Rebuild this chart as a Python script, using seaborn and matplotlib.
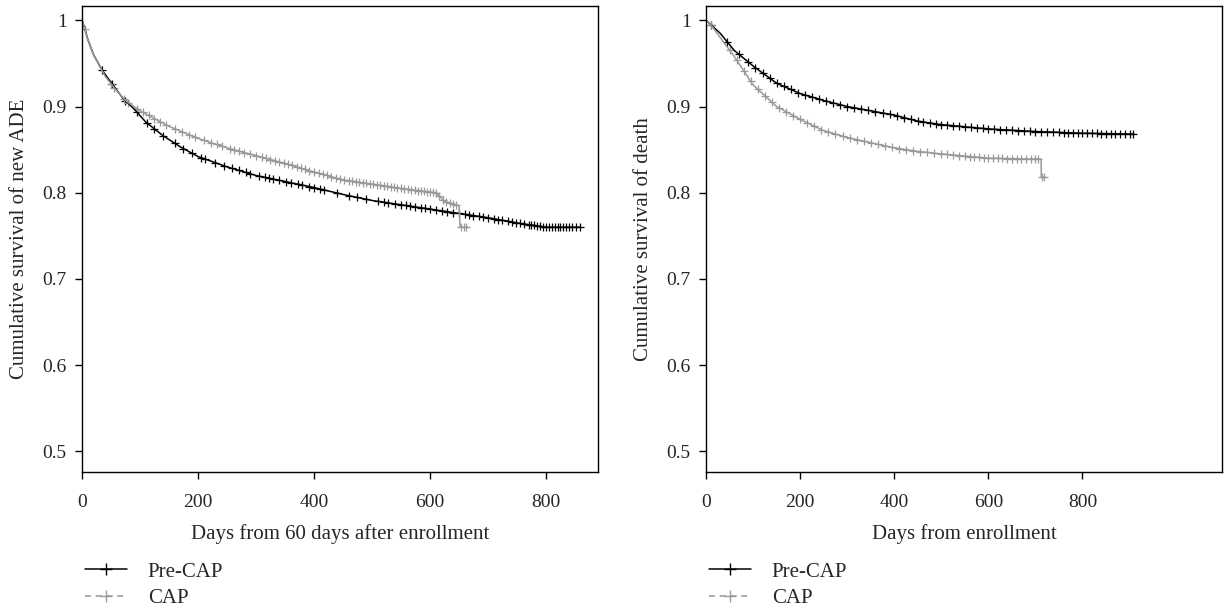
import numpy as np
import pandas as pd
import matplotlib
matplotlib.use("Agg")
import matplotlib.pyplot as plt
import seaborn as sns
from matplotlib.lines import Line2D

# Left panel: new ADE (KM curve points, estimated from the figure)
ade_pre_t = [0, 5, 10, 20, 35, 50, 70, 90, 110, 140, 170, 200, 250, 300, 350, 400, 450, 500, 550, 600, 650, 700, 750, 800, 860]
ade_pre_s = [1.0, 0.99, 0.978, 0.96, 0.942, 0.928, 0.91, 0.897, 0.882, 0.866, 0.853, 0.842, 0.830, 0.820, 0.813, 0.806,
             0.798, 0.791, 0.786, 0.781, 0.776, 0.771, 0.765, 0.760, 0.760]
ade_cap_t = [0, 5, 10, 20, 40, 55, 75, 100, 150, 200, 250, 300, 350, 400, 450, 500, 550, 610, 625, 650, 652, 665]
ade_cap_s = [1.0, 0.99, 0.978, 0.96, 0.935, 0.922, 0.907, 0.895, 0.877, 0.863, 0.852, 0.843, 0.834, 0.824, 0.815, 0.810,
             0.805, 0.800, 0.790, 0.785, 0.760, 0.760]
ade_pre_cens = [35, 52, 75, 95, 112, 125, 140, 160, 175, 190, 205, 212, 230, 245, 258, 270, 282, 290, 305, 315, 322,
                330, 340, 352, 360, 372, 380, 392, 400, 410, 418, 440, 460, 475, 490, 510, 520, 528, 540, 550, 558, 565,
                575, 585, 592, 600, 610, 620, 630, 640, 650, 660, 668, 675, 685, 692, 700, 710, 718, 725, 735, 742, 748,
                755, 762, 770, 775, 780, 785, 790, 795, 800, 805, 810, 815, 820, 825, 830, 835, 840, 845, 852, 858]
ade_cap_cens = [5, 50, 55, 72, 80, 95, 105, 115, 125, 135, 145, 160, 172, 185, 195, 210, 222, 232, 242, 255, 262, 270,
                280, 290, 300, 310, 318, 325, 332, 340, 348, 355, 362, 370, 378, 385, 392, 400, 408, 415, 422, 430, 438,
                445, 452, 460, 466, 472, 478, 484, 490, 496, 502, 508, 514, 520, 526, 532, 538, 544, 550, 556, 562, 568,
                574, 580, 585, 590, 595, 600, 605, 610, 616, 622, 628, 634, 640, 645, 654, 658, 662]

# Right panel: death
dth_pre_t = [0, 10, 30, 60, 100, 150, 200, 250, 300, 350, 400, 450, 500, 600, 700, 800, 910]
dth_pre_s = [1.0, 0.995, 0.985, 0.965, 0.947, 0.927, 0.915, 0.907, 0.900, 0.895, 0.890, 0.883, 0.879, 0.874, 0.871,
             0.869, 0.868]
dth_cap_t = [0, 10, 30, 60, 100, 150, 200, 250, 300, 350, 400, 450, 500, 600, 700, 712, 712.5, 720]
dth_cap_s = [1.0, 0.995, 0.98, 0.958, 0.925, 0.900, 0.885, 0.872, 0.864, 0.858, 0.852, 0.848, 0.845, 0.840, 0.839,
             0.839, 0.818, 0.818]
dth_pre_cens = [10, 45, 70, 90, 105, 120, 135, 150, 165, 180, 195, 210, 225, 240, 255, 270, 285, 300, 315, 330, 345,
                360, 375, 390, 405, 420, 435, 450, 462, 475, 488, 500, 512, 525, 538, 550, 562, 575, 588, 600, 612, 625,
                638, 650, 662, 675, 688, 700, 712, 725, 738, 750, 760, 770, 780, 790, 800, 810, 820, 830, 840, 850, 860,
                870, 880, 890, 900, 908]
dth_cap_cens = [10, 50, 65, 80, 95, 110, 125, 140, 155, 170, 185, 200, 215, 230, 245, 260, 275, 290, 305, 320, 335,
                350, 365, 380, 395, 410, 425, 440, 455, 470, 485, 500, 512, 525, 538, 550, 560, 570, 580, 590, 600, 610,
                620, 630, 640, 650, 660, 670, 680, 690, 700, 706, 714, 718]

GROUPS = ["Pre-CAP", "CAP"]
COLORS = {"Pre-CAP": "#000000", "CAP": "#999999"}
DASHES = {"Pre-CAP": "-", "CAP": (0, (4, 3))}


def draw_km(ax, curves, xlabel, ylabel, xmax):
    for name, (t, s, cens) in curves.items():
        df = pd.DataFrame({"t": t, "s": s})
        sns.lineplot(data=df, x="t", y="s", estimator=None, sort=False,
                     color=COLORS[name], lw=1.1, ax=ax)
        cdf = pd.DataFrame({"t": cens, "s": np.interp(cens, t, s)})
        sns.scatterplot(data=cdf, x="t", y="s", marker="+", s=30, color=COLORS[name], linewidth=0.9, ax=ax)
    ax.set_xlim(0, xmax)
    ax.set_ylim(0.476, 1.017)
    ax.set_xticks([0, 200, 400, 600, 800])
    ax.set_yticks([0.5, 0.6, 0.7, 0.8, 0.9, 1.0])
    ax.set_yticklabels(["0.5", "0.6", "0.7", "0.8", "0.9", "1"])
    ax.set_xlabel(xlabel, labelpad=9)
    ax.set_ylabel(ylabel, labelpad=10)
    ax.tick_params(direction="out", length=5, width=1, labelsize=14, color="black", pad=6)
    ax.tick_params(axis="x", pad=11)
    for sp in ax.spines.values():
        sp.set_linewidth(1)
        sp.set_color("black")


sns.set_theme(style="ticks")
plt.rcParams["font.family"] = ["Liberation Serif", "DejaVu Serif"]
plt.rcParams["axes.labelsize"] = 15

fig = plt.figure(figsize=(12.29, 6.08), dpi=100)
ax1 = fig.add_axes([0.0667, 0.2237, 0.42, 0.767])
ax2 = fig.add_axes([0.5745, 0.2237, 0.42, 0.767])

draw_km(ax1, {"Pre-CAP": (ade_pre_t, ade_pre_s, ade_pre_cens), "CAP": (ade_cap_t, ade_cap_s, ade_cap_cens)},
        "Days from 60 days after enrollment", "Cumulative survival of new ADE", 890)
draw_km(ax2, {"Pre-CAP": (dth_pre_t, dth_pre_s, dth_pre_cens), "CAP": (dth_cap_t, dth_cap_s, dth_cap_cens)},
        "Days from enrollment", "Cumulative survival of death", 1097)

handles = [Line2D([], [], color=COLORS[g], ls=DASHES[g], lw=1.1, marker="+", markersize=9) for g in GROUPS]
for ax in (ax1, ax2):
    ax.legend(handles, GROUPS, loc="upper left", bbox_to_anchor=(-0.01, -0.175), frameon=False,
              fontsize=15, handlelength=2.0, handletextpad=1.0, labelspacing=0.35, borderaxespad=0)

fig.savefig("out.png", dpi=100)
